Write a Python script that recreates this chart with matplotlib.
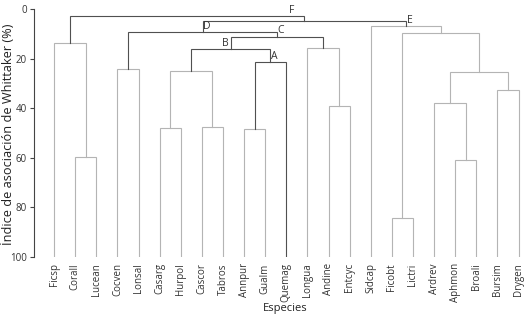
import numpy as np
import matplotlib
matplotlib.use('Agg')
import matplotlib.pyplot as plt

plt.rcParams['font.family'] = ['Open Sans', 'DejaVu Sans']

# hojas del dendrograma, en el orden del eje x
leaves = ['Ficsp', 'Corall', 'Lucean', 'Cocven', 'Lonsal', 'Casarg', 'Hurpol',
          'Cascor', 'Tabros', 'Annpur', 'Gualm', 'Quemag', 'Longua', 'Andine',
          'Entcyc', 'Sidcap', 'Ficobt', 'Lictri', 'Ardrev', 'Aphmon', 'Broali',
          'Bursim', 'Drygen']

# uniones: hijo izquierdo, hijo derecho (nodos nuevos = 23, 24, ...)
merge_left = [1, 0, 3, 5, 7, 26, 9, 29, 28, 13, 12, 31, 25,
              16, 19, 18, 21, 38, 36, 15, 35, 24]
merge_right = [2, 23, 4, 6, 8, 27, 10, 11, 30, 14, 32, 33, 34,
               17, 20, 37, 22, 39, 40, 41, 42, 43]
merge_height = [59.6, 13.6, 24.2, 47.9, 47.5, 25.0, 48.4, 21.5, 16.2, 39.0, 15.6, 11.2, 9.2,
                84.1, 60.8, 37.8, 32.7, 25.3, 9.8, 6.7, 4.8, 2.8]

# nodos etiquetados
node_names = ['A', 'B', 'C', 'D', 'E', 'F']
node_ids = [30, 31, 34, 35, 42, 43]
# nodos del tronco principal (trazo oscuro)
dark_nodes = [30, 31, 34, 35, 43, 44]

n = len(leaves)
xpos = list(range(n))
ypos = [100.0] * n
parent = {}
for i in range(len(merge_left)):
    a, b = merge_left[i], merge_right[i]
    xpos.append((xpos[a] + xpos[b]) / 2.0)
    ypos.append(merge_height[i])
    parent[a] = n + i
    parent[b] = n + i

light = '#b4b4b4'
dark = '#505050'

fig = plt.figure(figsize=(5.28, 3.28), dpi=100)
ax = fig.add_axes([34/528, (328-257)/328, (527-34)/528, (257-9)/328])

for i in range(len(merge_left)):
    node = n + i
    a, b = merge_left[i], merge_right[i]
    h = merge_height[i]
    c = dark if node in dark_nodes else light
    z = 3 if node in dark_nodes else 2
    ax.plot([xpos[a], xpos[a], xpos[b], xpos[b]], [ypos[a], h, h, ypos[b]],
            color=c, lw=0.8, zorder=z, solid_joinstyle='miter')

# etiquetas de los nodos, junto al tallo del nodo
label_offsets = {'A': (3, -5), 'B': (-4, -5), 'C': (2.5, 1.2), 'D': (3, -4),
                 'E': (3, 0.3), 'F': (-9, 4)}
for name, node in zip(node_names, node_ids):
    dx, dy = label_offsets[name]
    ax.annotate(name, (xpos[node], ypos[parent[node]]), xytext=(dx, dy),
                textcoords='offset points', ha='center', va='center',
                fontsize=7.5, color='#333333')

ax.set_xlim(-0.95, 22.4)
ax.set_ylim(100, 0)
ax.set_yticks([0, 20, 40, 60, 80, 100])
ax.set_xticks(range(n))
ax.set_xticklabels(leaves, rotation=90, fontsize=7, color='#333333')
ax.tick_params(axis='x', length=0, pad=4.5)
ax.tick_params(axis='y', direction='out', length=3, width=0.8, labelsize=7,
               colors='#444444', labelcolor='#333333', pad=2)
for s in ['top', 'right', 'bottom']:
    ax.spines[s].set_visible(False)
ax.spines['left'].set_color('#444444')
ax.spines['left'].set_linewidth(0.8)

fig.text(285/528, 1 - 309/328, 'Especies', ha='center', va='center',
         fontsize=8, color='#222222')
fig.text(8/528, 1 - 134/328, 'Índice de asociación de Whittaker (%)', rotation=90,
         ha='center', va='center', fontsize=9.2, color='#222222')

plt.savefig('out.png', dpi=100)
